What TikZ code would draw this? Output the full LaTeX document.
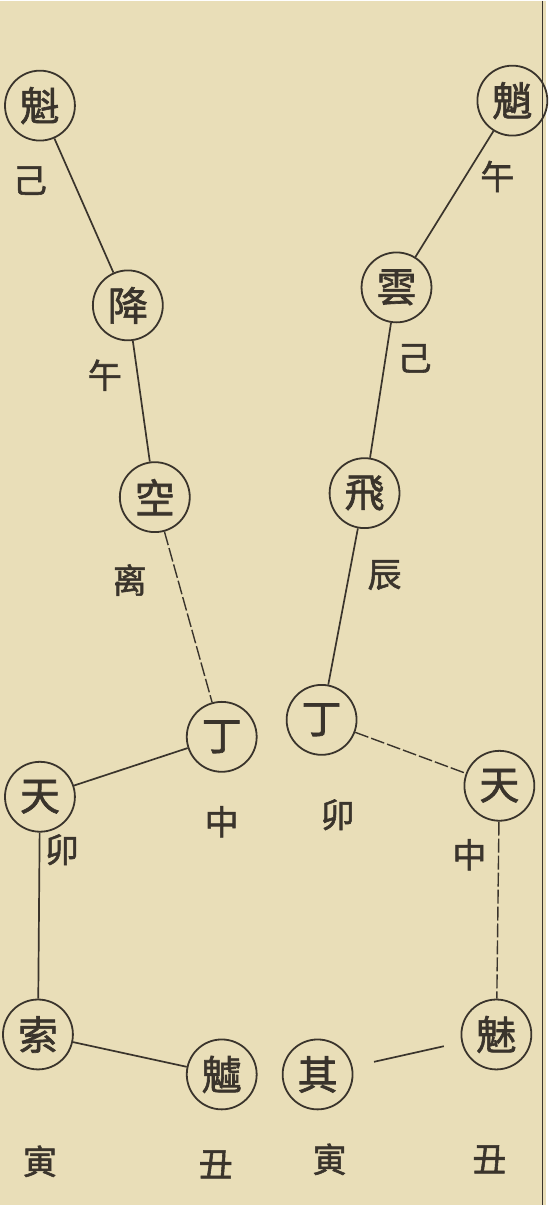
\documentclass[tikz,border=0pt]{standalone}
\usepackage{fontspec}
\newfontfamily\cjk[AutoFakeBold=1.6]{Noto Sans CJK TC}
\definecolor{paper}{RGB}{233,222,184}
\definecolor{ink}{RGB}{58,52,44}
\begin{document}
\begin{tikzpicture}[x=1pt,y=-1pt,
    star/.style={circle, draw=ink, line width=1.8pt, minimum size=70pt, inner sep=0pt, text=ink, font=\cjk\bfseries\fontsize{40}{40}\selectfont},
    lbl/.style={text=ink, font=\cjk\bfseries\fontsize{34}{34}\selectfont},
    link/.style={draw=ink, line width=1.7pt},
    faint/.style={draw=ink, line width=1.4pt, dash pattern=on 14pt off 3pt}]
    % Paper and page edge
    \fill[paper] (0,0) rectangle (547,1206);
    \draw[ink, line width=1.5pt] (543,0) -- (543,1206);

    % Left column
    \node[star] (kuiL) at (40,105) {魁};
    \node[star] (jiang) at (128,305) {降};
    \node[star] (kong) at (155,497) {空};
    \node[star] (dingL) at (222,737) {丁};
    \node[star] (tianL) at (40,797) {天};
    \node[star] (suo) at (38,1035) {索};
    \node[star] (xu) at (222,1075) {魖};

    % Right column
    \node[star] (kuiR) at (513,100) {魈};
    \node[star] (yun) at (397,287) {雲};
    \node[star] (fei) at (365,493) {飛};
    \node[star] (dingR) at (322,720) {丁};
    \node[star] (tianR) at (500,786) {天};
    \node[star] (mei) at (497,1035) {魅};
    \node[star] (qi) at (318,1075) {其};

    % Labels
    \node[lbl] (l1) at (30,180) {己};
    \node[lbl] (l2) at (105,375) {午};
    \node[lbl] (l3) at (130,580) {离};
    \node[lbl] (l4) at (222,822) {中};
    \node[lbl] (l5) at (62,850) {卯};
    \node[lbl] (l6) at (40,1162) {寅};
    \node[lbl] (l7) at (216,1165) {丑};
    \node[lbl] (r1) at (498,176) {午};
    \node[lbl] (r2) at (415,358) {己};
    \node[lbl] (r3) at (385,575) {辰};
    \node[lbl] (r4) at (338,815) {卯};
    \node[lbl] (r5) at (470,855) {中};
    \node[lbl] (r6) at (330,1160) {寅};
    \node[lbl] (r7) at (490,1160) {丑};

    % Connectors
    \draw[link] (kuiL) -- (jiang);
    \draw[link] (jiang) -- (kong);
    \draw[faint] (kong) -- (dingL);
    \draw[link] (dingL) -- (tianL);
    \draw[link] (tianL) -- (suo);
    \draw[link] (suo) -- (xu);
    \draw[link] (kuiR) -- (yun);
    \draw[link] (yun) -- (fei);
    \draw[link] (fei) -- (dingR);
    \draw[faint] (dingR) -- (tianR);
    \draw[faint] (tianR) -- (mei);
    \draw[link, shorten <=22pt, shorten >=18pt] (qi) -- (mei);
\end{tikzpicture}
\end{document}
